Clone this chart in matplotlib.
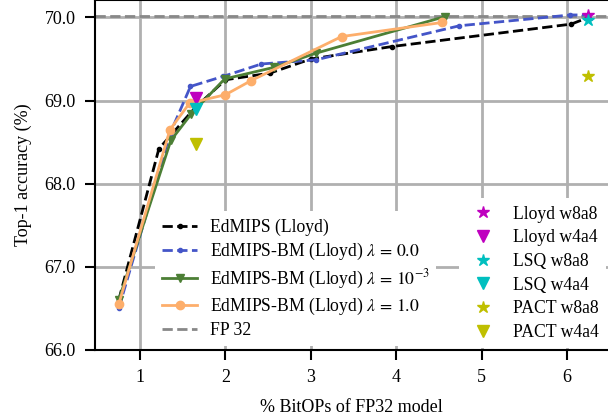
import matplotlib
matplotlib.use("Agg")
import matplotlib.pyplot as plt

plt.rcParams['font.family'] = ['Liberation Serif', 'DejaVu Serif']
plt.rcParams['mathtext.fontset'] = 'stix'

# EdMIPS (Lloyd)
edmips_x = [0.75, 1.22, 1.65, 2.0, 2.52, 3.0, 3.95, 6.05, 6.25]
edmips_y = [66.6, 68.42, 68.92, 69.25, 69.33, 69.5, 69.65, 69.92, 70.0]

# EdMIPS-BM lambda = 0.0
bm0_x = [0.75, 1.35, 1.59, 1.97, 2.42, 3.06, 4.74, 6.04, 6.25]
bm0_y = [66.5, 68.6, 69.17, 69.29, 69.44, 69.49, 69.9, 70.03, 70.03]

# EdMIPS-BM lambda = 1e-3
bm3_x = [0.75, 1.36, 1.6, 1.99, 2.57, 3.06, 4.57]
bm3_y = [66.6, 68.52, 68.84, 69.26, 69.4, 69.57, 70.01]

# EdMIPS-BM lambda = 1.0
bm1_x = [0.75, 1.35, 1.58, 2.0, 2.3, 3.36, 4.54]
bm1_y = [66.55, 68.65, 68.97, 69.07, 69.24, 69.77, 69.94]

fp32_acc = 70.02

# single baselines: (label, x, y, marker, color)
baselines = [
    ("Lloyd w8a8", 6.25, 70.03, '*', '#bf00bf'),
    ("Lloyd w4a4", 1.66, 69.03, 'v', '#bf00bf'),
    ("LSQ w8a8", 6.25, 69.97, '*', '#00bfbf'),
    ("LSQ w4a4", 1.66, 68.9, 'v', '#00bfbf'),
    ("PACT w8a8", 6.25, 69.3, '*', '#bfbf00'),
    ("PACT w4a4", 1.66, 68.48, 'v', '#bfbf00'),
]

fig = plt.figure(figsize=(6.08, 4.19), dpi=100)
ax = fig.add_axes([0.156, 0.165, 0.844, 0.835])

l1, = ax.plot(edmips_x, edmips_y, '--', color='black', marker='o', markersize=3,
              lw=2, label='EdMIPS (Lloyd)', zorder=3)
l2, = ax.plot(bm0_x, bm0_y, '--', color='#4455c8', marker='o', markersize=3,
              lw=2, label=r'EdMIPS-BM (Lloyd) $\lambda\,=\,0.0$', zorder=3)
l3, = ax.plot(bm3_x, bm3_y, '-', color='#4c7f35', marker='v', markersize=6,
              lw=2, label=r'EdMIPS-BM (Lloyd) $\lambda\,=\,10^{-3}$', zorder=3)
l4, = ax.plot(bm1_x, bm1_y, '-', color='#fdae6b', marker='o', markersize=6,
              lw=2, label=r'EdMIPS-BM (Lloyd) $\lambda\,=\,1.0$', zorder=3)
l5 = ax.axhline(fp32_acc, ls='--', color='#888888', lw=2, label='FP 32', zorder=2)

pts = []
for lab, x, y, m, c in baselines:
    ms = 9 if m == '*' else 8
    p, = ax.plot([x], [y], ls='none', marker=m, color=c, markersize=ms, label=lab, zorder=4)
    pts.append(p)

ax.set_xlim(0.47, 6.48)
ax.set_ylim(66.0, 70.21)
ax.set_xticks([1, 2, 3, 4, 5, 6])
ax.set_yticks([66, 67, 68, 69, 70])
ax.set_yticklabels(['66.0', '67.0', '68.0', '69.0', '70.0'])
ax.grid(True, color='#b0b0b0', lw=2)
ax.set_axisbelow(True)
for s in ['left', 'bottom', 'top']:
    ax.spines[s].set_linewidth(1.5)
ax.spines['right'].set_visible(False)
ax.tick_params(labelsize=13, width=1.5, length=7, pad=7)

ax.set_xlabel('% BitOPs of FP32 model', fontsize=13, labelpad=9)
ax.set_ylabel('Top-1 accuracy (%)', fontsize=13, labelpad=9)

leg1 = ax.legend(handles=[l1, l2, l3, l4, l5], loc='lower left',
                 bbox_to_anchor=(0.11, 0.0), fontsize=12.7, framealpha=1,
                 edgecolor='none', borderaxespad=0.2, labelspacing=0.3,
                 handlelength=2.0, handletextpad=0.7)
ax.add_artist(leg1)
ax.legend(handles=pts, loc='lower right', bbox_to_anchor=(1.0, 0.0),
          fontsize=12.7, framealpha=1, edgecolor='none', handletextpad=0.7,
          borderaxespad=0.1, labelspacing=0.38)

fig.savefig('out.png', dpi=100)
